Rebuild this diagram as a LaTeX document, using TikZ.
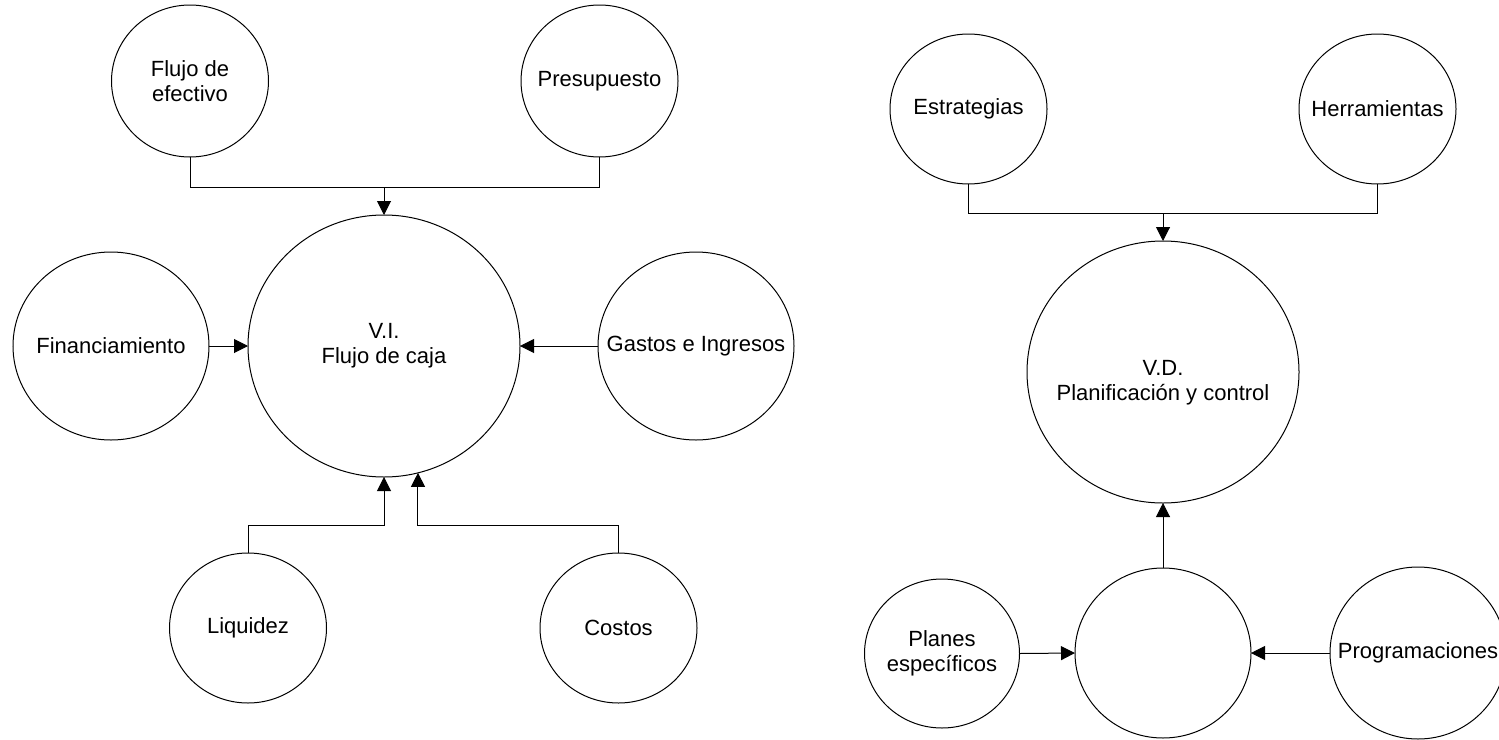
\documentclass[tikz,border=0pt]{standalone}
\usepackage{fontspec}
\setmainfont{Liberation Sans}
\usetikzlibrary{shapes.geometric,arrows.meta}
\begin{document}
\begin{tikzpicture}[x=1pt,y=-1pt,
  font=\fontsize{22}{25}\selectfont,
  bubble/.style={draw=black,line width=1pt,ellipse,inner sep=0pt,outer sep=0pt},
  sm/.style={bubble,minimum width=157pt,minimum height=152pt},
  md/.style={bubble,minimum width=196pt,minimum height=188pt},
  big/.style={bubble,minimum width=272pt,minimum height=262pt},
  conn/.style={draw=black,line width=1pt},
  arr/.style={conn,-{Triangle[length=14pt,width=14pt]}}]
\useasboundingbox (0,0) rectangle (1499,739);
% ---- left diagram
\node[sm,label={[align=center]center:Flujo de\\efectivo}] (fe) at (190,81) {};
\node[sm,label={center:Presupuesto}] (pre) at (599.5,81) {};
\node[big,label={[align=center]center:V.I.\\Flujo de caja}] (vi) at (384,346) {};
\node[md,label={center:Financiamiento}] (fin) at (111,346) {};
\node[md,label={center:Gastos e Ingresos}] (gas) at (696,346) {};
\node[sm,minimum height=150pt,label={center:Liquidez}] (liq) at (248,628) {};
\node[sm,minimum height=150pt,label={center:Costos}] (cos) at (618.5,628) {};
\coordinate (j1) at (384,187);
\draw[conn] (fe.south) -- ++(0,30) -| (pre.south);
\draw[arr] (j1) -- (vi.north);
\draw[arr] (fin.east) -- (vi.west);
\draw[arr] (gas.west) -- (vi.east);
\draw[arr] (liq.north) -- ++(0,-28) -| (vi.south);
\draw[arr] (cos.north) -- ++(0,-28) -| (vi.-75);
% ---- right diagram
\node[sm,minimum height=150pt,label={center:Estrategias}] (est) at (968.5,109) {};
\node[sm,minimum height=150pt,label={center:Herramientas}] (her) at (1377.5,109) {};
\node[big,label={[align=center,yshift=-11pt]center:V.D.\\Planificación y control}] (vd) at (1163,372) {};
\node[bubble,minimum width=155pt,minimum height=149pt,label={[align=center]center:Planes\\específicos}] (pla) at (942,653.5) {};
\node[bubble,minimum width=176pt,minimum height=170pt] (mid) at (1163,653) {};
\node[bubble,minimum width=176pt,minimum height=172pt,label={center:Programaciones}] (pro) at (1418,653) {};
\coordinate (j2) at (1163,213);
\draw[conn] (est.south) -- ++(0,29) -| (her.south);
\draw[arr] (j2) -- (vd.north);
\draw[arr] (pla.east) -- (mid.west);
\draw[arr] (pro.west) -- (mid.east);
\draw[arr] (mid.north) -- (vd.south);
\end{tikzpicture}
\end{document}
